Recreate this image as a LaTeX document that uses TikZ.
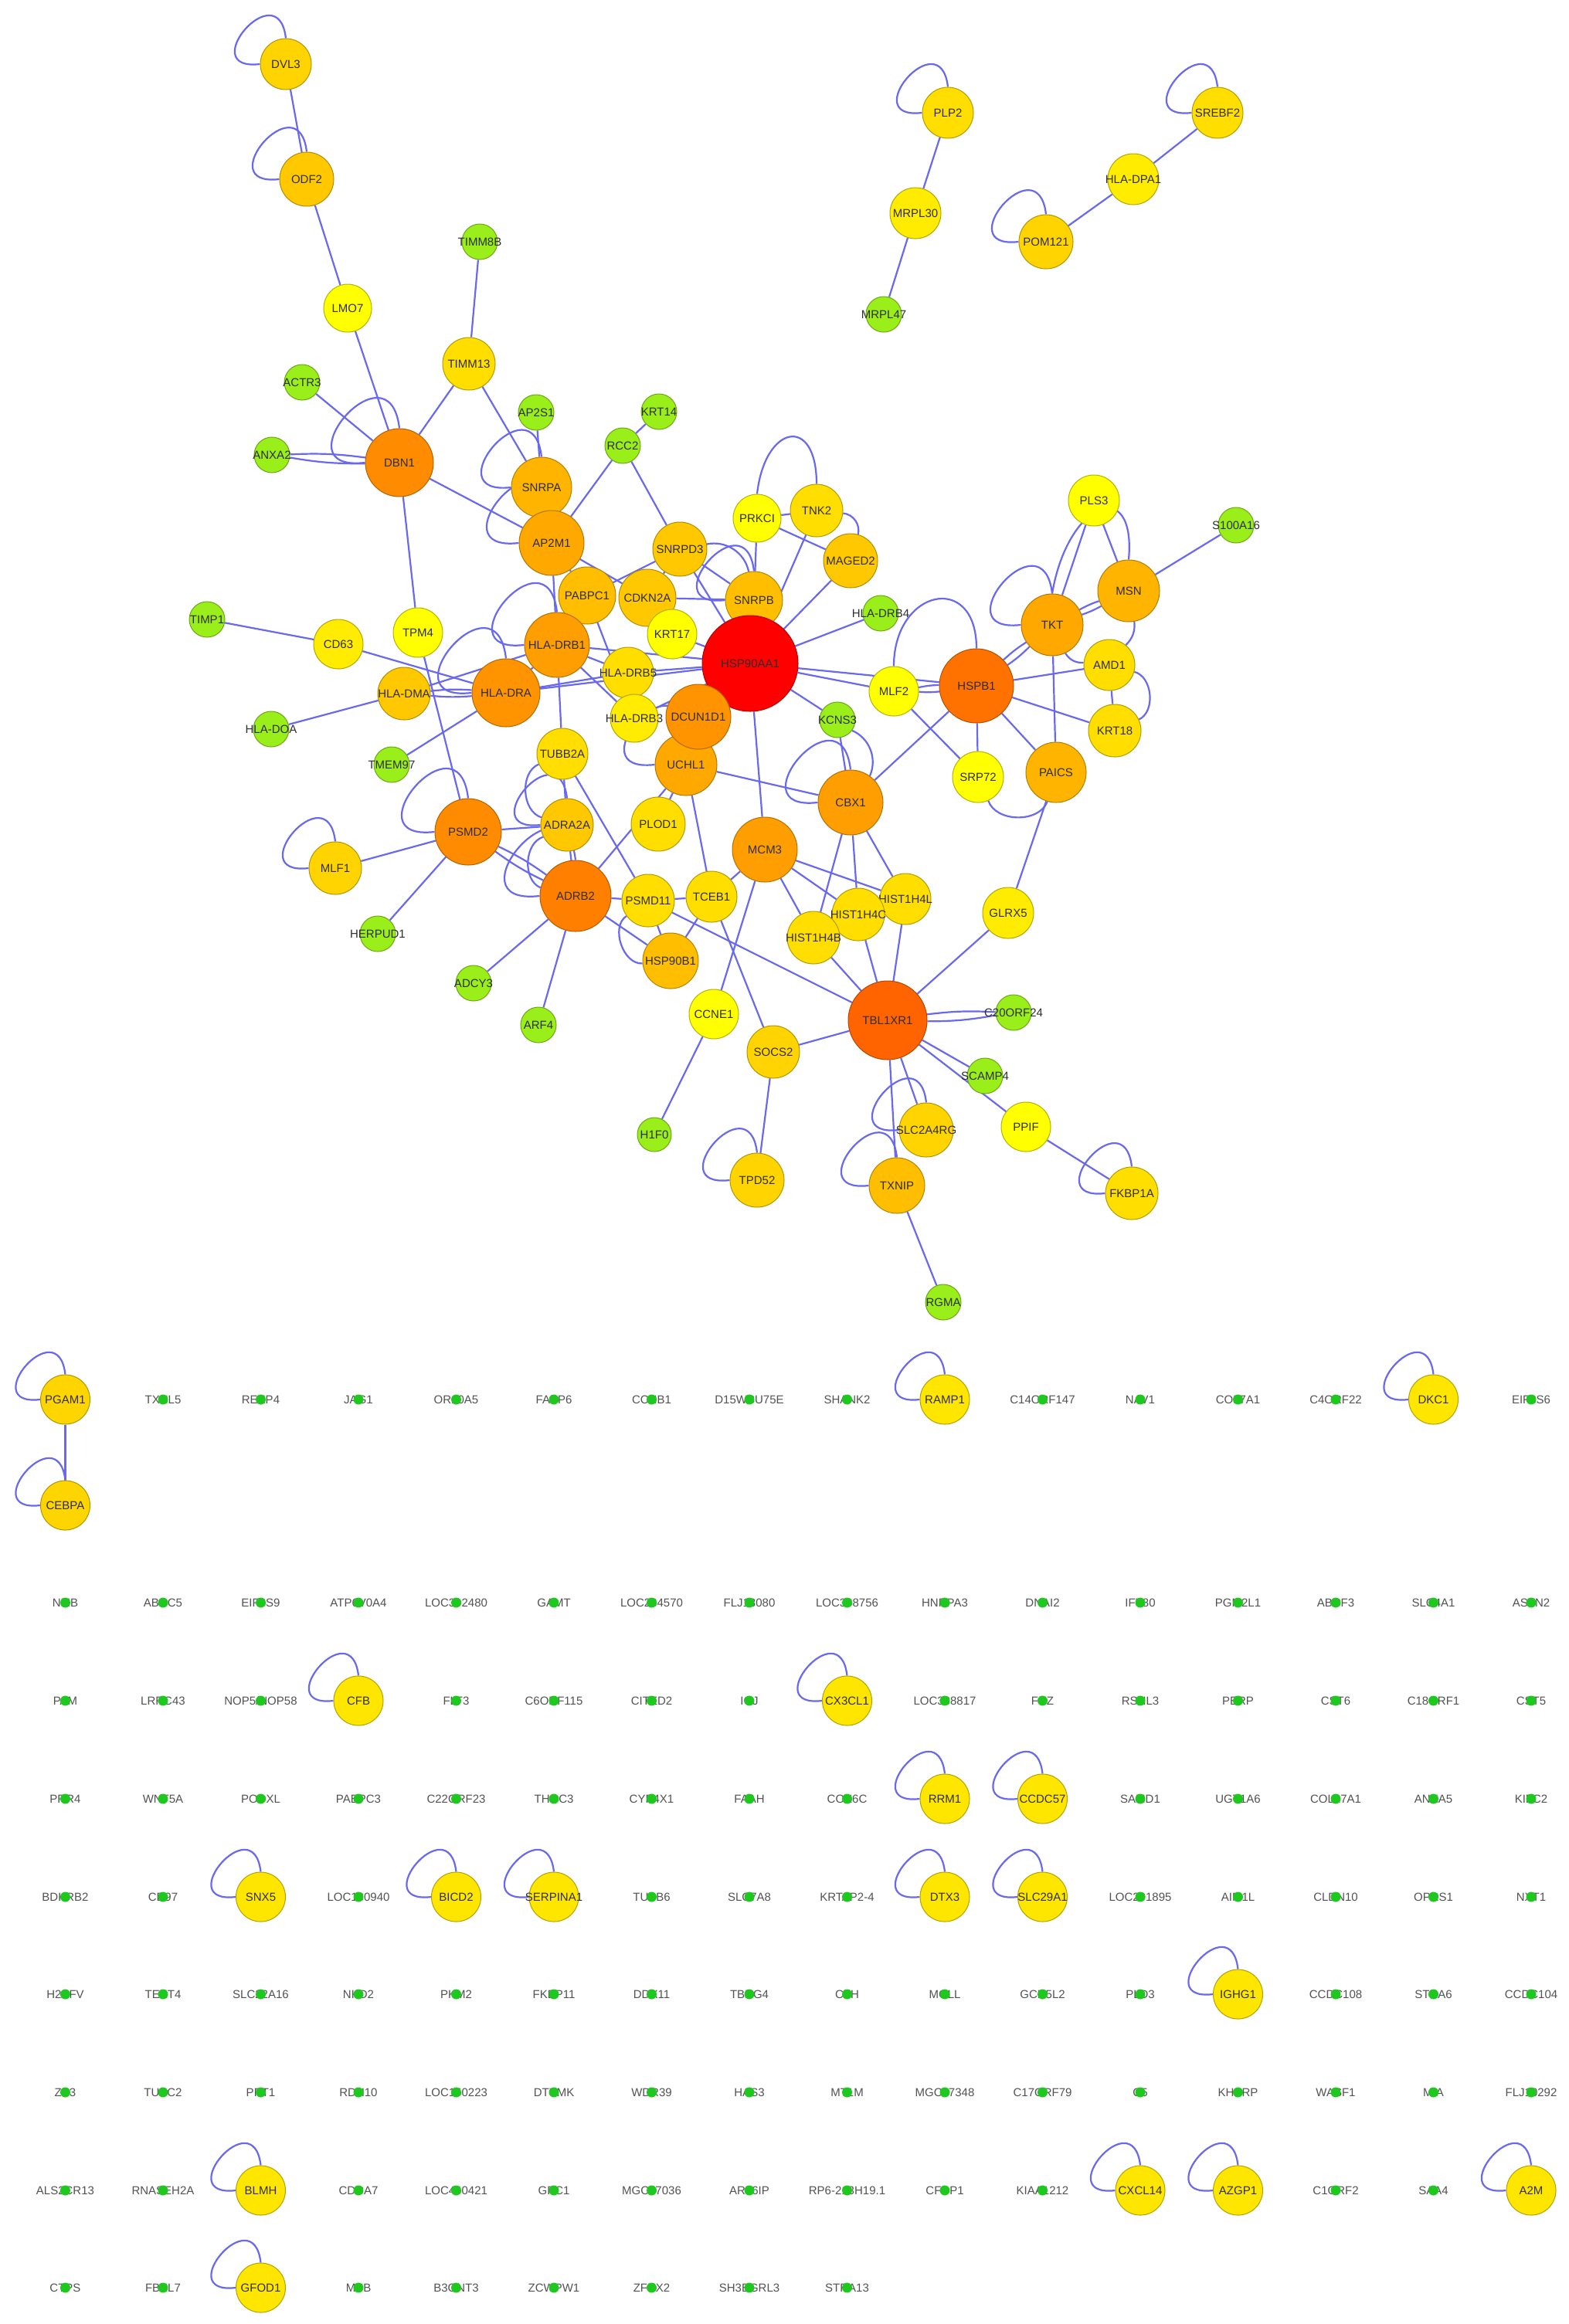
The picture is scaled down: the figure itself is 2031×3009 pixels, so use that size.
\documentclass[tikz,border=0pt]{standalone}
\usepackage{fontspec}
\setmainfont{Liberation Sans}
\pgfdeclarelayer{bglayer}
\pgfdeclarelayer{edgelayer}
\pgfsetlayers{bglayer,edgelayer,main}
\definecolor{eblue}{RGB}{105,105,240}
\definecolor{cG}{HTML}{9AEE1A}
\definecolor{cD}{HTML}{1EC81E}
\definecolor{cR}{HTML}{FF0000}
\definecolor{cOa}{HTML}{FF6400}
\definecolor{cOb}{HTML}{FF7200}
\definecolor{cOc}{HTML}{FF8000}
\definecolor{cOd}{HTML}{FF8C00}
\definecolor{cOe}{HTML}{FF9400}
\definecolor{cOf}{HTML}{FF9E00}
\definecolor{cOg}{HTML}{FFA800}
\definecolor{cOh}{HTML}{FFB400}
\definecolor{cYa}{HTML}{FFBE00}
\definecolor{cYb}{HTML}{FFC800}
\definecolor{cYc}{HTML}{FFD400}
\definecolor{cYd}{HTML}{FFDE00}
\definecolor{cYe}{HTML}{FFEC00}
\definecolor{cYf}{HTML}{FFFF00}
\definecolor{cGY}{HTML}{FFE600}
\definecolor{cGYb}{HTML}{FFD500}
\newcommand\netnode[6]{\node[nd, minimum size={2*#4}, fill=#5, draw=#5!70!black] (#1) at (#2,#3) {};\node[lab] (#1t) at (#1) {#6};}
\newcommand\griddot[4]{\node[glab] (#1) at ({84.5+126.5*#2},#3) {#4};\node[gdt] (#1d) at (#1) {};}
\newcommand\gridyel[5]{\node[nd, minimum size=64, fill=#5, draw=#5!70!black] (#1) at ({84.5+126.5*#2},#3) {};\node[lab] (#1t) at (#1) {#4};}
\newcommand\sloopx[2]{\draw[lnk] (#1.north) .. controls +({-0.3*#2},{-2.6*#2}) and +({-2.6*#2},{0.3*#2}) .. (#1.west);}
\begin{document}
\begin{tikzpicture}[x=1pt,y=-1pt,
  lnk/.style={draw=eblue, line width=2.2},
  nd/.style={circle, inner sep=0, line width=1},
  lab/.style={font=\fontsize{15}{15}\selectfont, text=black!82, inner sep=0},
  glab/.style={font=\fontsize{15}{15}\selectfont, text=black!68, inner sep=0},
  gdt/.style={circle, fill=cD, minimum size=13, inner sep=0}]
\begin{pgfonlayer}{bglayer}
\fill[white] (0,0) rectangle (2031,3009);
\end{pgfonlayer}
\useasboundingbox (0,0) rectangle (2031,3009);
% ---------------- network nodes
\netnode{DVL3}{370}{83}{33}{cYc}{DVL3}
\netnode{ODF2}{397}{232}{35}{cYb}{ODF2}
\netnode{LMO7}{450}{399}{31}{cYf}{LMO7}
\netnode{TIMM8B}{621}{313}{23}{cG}{TIMM8B}
\netnode{TIMM13}{607}{471}{34}{cYd}{TIMM13}
\netnode{ACTR3}{391}{495}{23}{cG}{ACTR3}
\netnode{ANXA2}{352}{589}{23}{cG}{ANXA2}
\netnode{DBN1}{517}{599}{44}{cOd}{DBN1}
\netnode{AP2S1}{694}{534}{23}{cG}{AP2S1}
\netnode{KRT14}{853}{533}{23}{cG}{KRT14}
\netnode{RCC2}{806}{577}{23}{cG}{RCC2}
\netnode{SNRPA}{701}{631}{39}{cOh}{SNRPA}
\netnode{AP2M1}{714}{703}{42}{cOg}{AP2M1}
\netnode{SNRPD3}{880}{711}{35}{cYb}{SNRPD3}
\netnode{PABPC1}{760}{771}{37}{cYa}{PABPC1}
\netnode{CDKN2A}{838}{774}{37}{cYb}{CDKN2A}
\netnode{PRKCI}{980}{671}{31}{cYf}{PRKCI}
\netnode{TNK2}{1057}{661}{34}{cYd}{TNK2}
\netnode{MAGED2}{1101}{726}{35}{cYb}{MAGED2}
\netnode{SNRPB}{976}{777}{37}{cYa}{SNRPB}
\netnode{HLADRB4}{1140}{794}{23}{cG}{HLA-DRB4}
\netnode{HLADRB1}{721}{835}{42}{cOf}{HLA-DRB1}
\netnode{HSP90AA1}{971}{859}{62}{cR}{HSP90AA1}
\netnode{KRT17}{870}{821}{32}{cYf}{KRT17}
\netnode{HLADRB5}{813}{871}{33}{cYd}{HLA-DRB5}
\netnode{UCHL1}{888}{990}{40}{cOg}{UCHL1}
\netnode{HLADRB3}{821}{930}{31}{cYe}{HLA-DRB3}
\netnode{DCUN1D1}{904}{928}{42}{cOe}{DCUN1D1}
\netnode{HLADRA}{655}{897}{44}{cOe}{HLA-DRA}
\netnode{HLADMA}{523}{898}{34}{cYb}{HLA-DMA}
\netnode{HLADOA}{351}{944}{23}{cG}{HLA-DOA}
\netnode{TMEM97}{507}{990}{23}{cG}{TMEM97}
\netnode{TPM4}{541}{819}{32}{cYf}{TPM4}
\netnode{CD63}{438}{834}{32}{cYe}{CD63}
\netnode{TIMP1}{268}{802}{23}{cG}{TIMP1}
\netnode{TUBB2A}{728}{976}{33}{cYd}{TUBB2A}
\netnode{PLOD1}{852}{1067}{35}{cYd}{PLOD1}
\netnode{ADRA2A}{734}{1068}{34}{cYb}{ADRA2A}
\netnode{PSMD2}{606}{1077}{43}{cOd}{PSMD2}
\netnode{MLF1}{434}{1124}{34}{cYc}{MLF1}
\netnode{HERPUD1}{489}{1209}{23}{cG}{HERPUD1}
\netnode{ADRB2}{745}{1160}{46}{cOc}{ADRB2}
\netnode{HSP90B1}{868}{1244}{36}{cYa}{HSP90B1}
\netnode{PSMD11}{839}{1166}{34}{cYd}{PSMD11}
\netnode{ADCY3}{613}{1273}{23}{cG}{ADCY3}
\netnode{ARF4}{697}{1327}{23}{cG}{ARF4}
\netnode{TCEB1}{921}{1161}{33}{cYd}{TCEB1}
\netnode{MCM3}{990}{1100}{42}{cOf}{MCM3}
\netnode{CBX1}{1101}{1039}{42}{cOf}{CBX1}
\netnode{KCNS3}{1084}{932}{23}{cG}{KCNS3}
\netnode{MLF2}{1157}{895}{32}{cYf}{MLF2}
\netnode{HSPB1}{1264}{888}{48}{cOb}{HSPB1}
\netnode{TKT}{1362}{809}{40}{cOg}{TKT}
\netnode{MSN}{1461}{765}{40}{cOh}{MSN}
\netnode{PLS3}{1416}{648}{33}{cYf}{PLS3}
\netnode{S100A16}{1600}{680}{23}{cG}{S100A16}
\netnode{AMD1}{1436}{861}{33}{cYd}{AMD1}
\netnode{KRT18}{1443}{946}{34}{cYd}{KRT18}
\netnode{PAICS}{1367}{1000}{39}{cOh}{PAICS}
\netnode{SRP72}{1266}{1006}{33}{cYf}{SRP72}
\netnode{HIST1H4L}{1172}{1164}{33}{cYd}{HIST1H4L}
\netnode{HIST1H4C}{1111}{1184}{34}{cYd}{HIST1H4C}
\netnode{HIST1H4B}{1053}{1214}{34}{cYd}{HIST1H4B}
\netnode{GLRX5}{1305}{1182}{33}{cYe}{GLRX5}
\netnode{TBL1XR1}{1149}{1321}{51}{cOa}{TBL1XR1}
\netnode{C20ORF24}{1312}{1311}{23}{cG}{C20ORF24}
\netnode{SCAMP4}{1275}{1393}{23}{cG}{SCAMP4}
\netnode{PPIF}{1328}{1459}{32}{cYf}{PPIF}
\netnode{FKBP1A}{1465}{1545}{34}{cYd}{FKBP1A}
\netnode{SLC2A4RG}{1199}{1463}{35}{cYc}{SLC2A4RG}
\netnode{TXNIP}{1161}{1535}{36}{cYa}{TXNIP}
\netnode{RGMA}{1221}{1686}{23}{cG}{RGMA}
\netnode{CCNE1}{924}{1313}{32}{cYf}{CCNE1}
\netnode{SOCS2}{1001}{1362}{34}{cYc}{SOCS2}
\netnode{H1F0}{847}{1469}{22}{cG}{H1F0}
\netnode{TPD52}{980}{1528}{35}{cYc}{TPD52}
\netnode{PLP2}{1227}{146}{33}{cYd}{PLP2}
\netnode{MRPL30}{1185}{276}{33}{cYe}{MRPL30}
\netnode{MRPL47}{1144}{407}{23}{cG}{MRPL47}
\netnode{SREBF2}{1576}{146}{33}{cYd}{SREBF2}
\netnode{HLADPA1}{1467}{232}{33}{cYe}{HLA-DPA1}
\netnode{POM121}{1354}{313}{35}{cYc}{POM121}
% ---------------- grid
\gridyel{PGAM1}{0}{1812}{PGAM1}{cGYb}
\griddot{gA1}{1}{1812}{TXNL5}
\griddot{gA2}{2}{1812}{REEP4}
\griddot{gA3}{3}{1812}{JAG1}
\griddot{gA4}{4}{1812}{OR10A5}
\griddot{gA5}{5}{1812}{FABP6}
\griddot{gA6}{6}{1812}{CCNB1}
\griddot{gA7}{7}{1812}{D15WSU75E}
\griddot{gA8}{8}{1812}{SHANK2}
\gridyel{RAMP1}{9}{1812}{RAMP1}{cGY}
\griddot{gA10}{10}{1812}{C14ORF147}
\griddot{gA11}{11}{1812}{NAV1}
\griddot{gA12}{12}{1812}{COL7A1}
\griddot{gA13}{13}{1812}{C4ORF22}
\gridyel{DKC1}{14}{1812}{DKC1}{cGY}
\griddot{gA15}{15}{1812}{EIF3S6}
\gridyel{CEBPA}{0}{1949}{CEBPA}{cGYb}
%
\griddot{gC0}{0}{2075}{NMB}
\griddot{gC1}{1}{2075}{ABCC5}
\griddot{gC2}{2}{2075}{EIF3S9}
\griddot{gC3}{3}{2075}{ATP6V0A4}
\griddot{gC4}{4}{2075}{LOC392480}
\griddot{gC5}{5}{2075}{GAMT}
\griddot{gC6}{6}{2075}{LOC284570}
\griddot{gC7}{7}{2075}{FLJ13080}
\griddot{gC8}{8}{2075}{LOC388756}
\griddot{gC9}{9}{2075}{HNRPA3}
\griddot{gC10}{10}{2075}{DNAI2}
\griddot{gC11}{11}{2075}{IFT80}
\griddot{gC12}{12}{2075}{PGM2L1}
\griddot{gC13}{13}{2075}{ABCF3}
\griddot{gC14}{14}{2075}{SLC4A1}
\griddot{gC15}{15}{2075}{ASTN2}
%
\griddot{gD0}{0}{2202}{PAM}
\griddot{gD1}{1}{2202}{LRRC43}
\griddot{gD2}{2}{2202}{NOP5/NOP58}
\gridyel{CFB}{3}{2202}{CFB}{cGY}
\griddot{gD4}{4}{2202}{FLT3}
\griddot{gD5}{5}{2202}{C6ORF115}
\griddot{gD6}{6}{2202}{CITED2}
\griddot{gD7}{7}{2202}{IGJ}
\gridyel{CX3CL1}{8}{2202}{CX3CL1}{cGY}
\griddot{gD9}{9}{2202}{LOC388817}
\griddot{gD10}{10}{2202}{FUZ}
\griddot{gD11}{11}{2202}{RSHL3}
\griddot{gD12}{12}{2202}{PERP}
\griddot{gD13}{13}{2202}{CST6}
\griddot{gD14}{14}{2202}{C18ORF1}
\griddot{gD15}{15}{2202}{CST5}
%
\griddot{gE0}{0}{2329}{PRR4}
\griddot{gE1}{1}{2329}{WNT5A}
\griddot{gE2}{2}{2329}{PODXL}
\griddot{gE3}{3}{2329}{PABPC3}
\griddot{gE4}{4}{2329}{C22ORF23}
\griddot{gE5}{5}{2329}{THOC3}
\griddot{gE6}{6}{2329}{CYP4X1}
\griddot{gE7}{7}{2329}{FAAH}
\griddot{gE8}{8}{2329}{COX6C}
\gridyel{RRM1}{9}{2329}{RRM1}{cGY}
\gridyel{CCDC57}{10}{2329}{CCDC57}{cGY}
\griddot{gE11}{11}{2329}{SAMD1}
\griddot{gE12}{12}{2329}{UGT1A6}
\griddot{gE13}{13}{2329}{COL27A1}
\griddot{gE14}{14}{2329}{ANXA5}
\griddot{gE15}{15}{2329}{KIFC2}
%
\griddot{gF0}{0}{2456}{BDKRB2}
\griddot{gF1}{1}{2456}{CD97}
\gridyel{SNX5}{2}{2456}{SNX5}{cGY}
\griddot{gF3}{3}{2456}{LOC130940}
\gridyel{BICD2}{4}{2456}{BICD2}{cGY}
\gridyel{SERPINA1}{5}{2456}{SERPINA1}{cGY}
\griddot{gF6}{6}{2456}{TUBB6}
\griddot{gF7}{7}{2456}{SLC7A8}
\griddot{gF8}{8}{2456}{KRTAP2-4}
\gridyel{DTX3}{9}{2456}{DTX3}{cGY}
\gridyel{SLC29A1}{10}{2456}{SLC29A1}{cGY}
\griddot{gF11}{11}{2456}{LOC201895}
\griddot{gF12}{12}{2456}{AIM1L}
\griddot{gF13}{13}{2456}{CLDN10}
\griddot{gF14}{14}{2456}{OPRS1}
\griddot{gF15}{15}{2456}{NXT1}
%
\griddot{gG0}{0}{2582}{H2AFV}
\griddot{gG1}{1}{2582}{TEKT4}
\griddot{gG2}{2}{2582}{SLC22A16}
\griddot{gG3}{3}{2582}{NKD2}
\griddot{gG4}{4}{2582}{PKM2}
\griddot{gG5}{5}{2582}{FKBP11}
\griddot{gG6}{6}{2582}{DDX11}
\griddot{gG7}{7}{2582}{TBRG4}
\griddot{gG8}{8}{2582}{CFH}
\griddot{gG9}{9}{2582}{MGLL}
\griddot{gG10}{10}{2582}{GCN5L2}
\griddot{gG11}{11}{2582}{PLD3}
\gridyel{IGHG1}{12}{2582}{IGHG1}{cGY}
\griddot{gG13}{13}{2582}{CCDC108}
\griddot{gG14}{14}{2582}{STRA6}
\griddot{gG15}{15}{2582}{CCDC104}
%
\griddot{gH0}{0}{2709}{ZP3}
\griddot{gH1}{1}{2709}{TUSC2}
\griddot{gH2}{2}{2709}{PPT1}
\griddot{gH3}{3}{2709}{RDH10}
\griddot{gH4}{4}{2709}{LOC150223}
\griddot{gH5}{5}{2709}{DTYMK}
\griddot{gH6}{6}{2709}{WDR39}
\griddot{gH7}{7}{2709}{HAS3}
\griddot{gH8}{8}{2709}{MT1M}
\griddot{gH9}{9}{2709}{MGC27348}
\griddot{gH10}{10}{2709}{C17ORF79}
\griddot{gH11}{11}{2709}{C5}
\griddot{gH12}{12}{2709}{KHSRP}
\griddot{gH13}{13}{2709}{WASF1}
\griddot{gH14}{14}{2709}{MIA}
\griddot{gH15}{15}{2709}{FLJ10292}
%
\griddot{gI0}{0}{2836}{ALS2CR13}
\griddot{gI1}{1}{2836}{RNASEH2A}
\gridyel{BLMH}{2}{2836}{BLMH}{cGY}
\griddot{gI3}{3}{2836}{CDCA7}
\griddot{gI4}{4}{2836}{LOC440421}
\griddot{gI5}{5}{2836}{GPC1}
\griddot{gI6}{6}{2836}{MGC27036}
\griddot{gI7}{7}{2836}{ARL6IP}
\griddot{gI8}{8}{2836}{RP6-213H19.1}
\griddot{gI9}{9}{2836}{CFDP1}
\griddot{gI10}{10}{2836}{KIAA1212}
\gridyel{CXCL14}{11}{2836}{CXCL14}{cGY}
\gridyel{AZGP1}{12}{2836}{AZGP1}{cGY}
\griddot{gI13}{13}{2836}{C1ORF2}
\griddot{gI14}{14}{2836}{SAA4}
\gridyel{A2M}{15}{2836}{A2M}{cGY}
%
\griddot{gJ0}{0}{2962}{CTPS}
\griddot{gJ1}{1}{2962}{FBXL7}
\gridyel{GFOD1}{2}{2962}{GFOD1}{cGY}
\griddot{gJ3}{3}{2962}{MYB}
\griddot{gJ4}{4}{2962}{B3GNT3}
\griddot{gJ5}{5}{2962}{ZCWPW1}
\griddot{gJ6}{6}{2962}{ZFHX2}
\griddot{gJ7}{7}{2962}{SH3BGRL3}
\griddot{gJ8}{8}{2962}{STRA13}
% ---------------- edges
\begin{pgfonlayer}{edgelayer}
\foreach \a/\b in {DVL3/ODF2, ODF2/LMO7, LMO7/DBN1, ACTR3/DBN1, DBN1/TIMM13, TIMM13/TIMM8B, TIMM13/SNRPA, DBN1/AP2M1, DBN1/TPM4, AP2S1/SNRPA, RCC2/KRT14, RCC2/AP2M1, RCC2/SNRPD3, SNRPA/AP2M1, AP2M1/PABPC1, AP2M1/HLADRB1, AP2M1/CDKN2A, PABPC1/SNRPD3, PABPC1/HLADRB1, PABPC1/HLADRB3, CDKN2A/SNRPB, CDKN2A/SNRPD3, CDKN2A/KRT17, SNRPD3/SNRPB, SNRPD3/HSP90AA1, PRKCI/SNRPB, PRKCI/TNK2, PRKCI/MAGED2, TNK2/HSP90AA1, MAGED2/HSP90AA1, SNRPB/HSP90AA1, KRT17/HSP90AA1, HLADRB4/HSP90AA1, HLADRB1/HSP90AA1, HLADRB5/HSP90AA1, HLADRB3/HSP90AA1, HLADRA/HSP90AA1, DCUN1D1/HSP90AA1, HSP90AA1/MLF2, HSP90AA1/HSPB1, HSP90AA1/KCNS3, HSP90AA1/MCM3, HLADRA/HLADRB1, HLADRA/HLADRB5, HLADRB1/HLADRB5, HLADRB1/HLADRB3, HLADRB1/TUBB2A, HLADMA/HLADOA, HLADRA/TMEM97, CD63/TIMP1, CD63/HLADRA, HLADMA/HLADRB1, TPM4/PSMD2, PSMD2/MLF1, PSMD2/HERPUD1, PSMD2/ADRA2A, ADRB2/ADCY3, ADRB2/ARF4, ADRB2/ADRA2A, TUBB2A/ADRA2A, TUBB2A/PSMD11, ADRB2/PSMD11, ADRB2/HSP90B1, ADRB2/UCHL1, PSMD11/HSP90B1, PSMD11/TCEB1, TCEB1/HSP90B1, TCEB1/MCM3, TCEB1/SOCS2, TCEB1/UCHL1, MCM3/CCNE1, PSMD11/TBL1XR1, MCM3/HIST1H4B, MCM3/HIST1H4C, MCM3/HIST1H4L, CBX1/HIST1H4B, CBX1/HIST1H4C, CBX1/HIST1H4L, HIST1H4B/TBL1XR1, HIST1H4C/TBL1XR1, HIST1H4L/TBL1XR1, GLRX5/TBL1XR1, GLRX5/PAICS, TBL1XR1/SCAMP4, TBL1XR1/PPIF, PPIF/FKBP1A, TBL1XR1/SOCS2, SOCS2/TPD52, CCNE1/H1F0, TBL1XR1/TXNIP, TBL1XR1/SLC2A4RG, TXNIP/RGMA, UCHL1/DCUN1D1, UCHL1/CBX1, UCHL1/PLOD1, CBX1/KCNS3, CBX1/HSPB1, MLF2/SRP72, HSPB1/AMD1, HSPB1/KRT18, HSPB1/SRP72, HSPB1/PAICS, TKT/PLS3, MSN/PLS3, MSN/S100A16, AMD1/KRT18, TKT/PAICS, PLP2/MRPL30, MRPL30/MRPL47, SREBF2/HLADPA1, HLADPA1/POM121, PGAM1/CEBPA}
  \draw[lnk] (\a) -- (\b);
\foreach \a/\b in {ANXA2/DBN1, HLADRA/HLADMA, PSMD2/ADRB2, TBL1XR1/C20ORF24, MLF2/HSPB1, HSPB1/TKT, TKT/MSN}
  {\draw[lnk] (\a) to[bend left=5] (\b); \draw[lnk] (\a) to[bend right=5] (\b);}
\draw[lnk] (PRKCI.north) .. controls +(10,-90) and +(0,-90) .. (TNK2.north);
\draw[lnk] (SNRPD3) to[bend left=45] (SNRPB);
\draw[lnk] (TNK2) to[bend left=50] (MAGED2);
\draw[lnk] (ADRB2) to[bend left=70] (ADRA2A);
\draw[lnk] (TUBB2A) to[bend right=70] (ADRA2A);
\draw[lnk] (PSMD11) to[bend right=75] (HSP90B1);
\draw[lnk] (CBX1) to[bend right=45] (KCNS3);
\draw[lnk] (MLF2.north) .. controls +(0,-100) and +(0,-100) .. (HSPB1.north);
\draw[lnk] (TKT.north) .. controls +(20,-120) and +(10,-110) .. (MSN.north);
\draw[lnk] (TKT) to[bend right=30] (AMD1);
\draw[lnk] (MSN) to[bend left=25] (AMD1);
\draw[lnk] (AMD1) to[bend left=70] (KRT18);
\draw[lnk] (PAICS) to[bend left=70] (SRP72);
\foreach \n/\r in {DVL3/33, ODF2/35, DBN1/44, SNRPA/39, AP2M1/42, HLADRA/44, HLADRB1/42, PSMD2/43, MLF1/34, ADRB2/46, ADRA2A/34, TKT/40, TXNIP/36, SLC2A4RG/35, TPD52/35, FKBP1A/34, PLP2/33, SREBF2/33, POM121/35, CBX1/42, SNRPB/37, UCHL1/40, PGAM1/32, CEBPA/32, RAMP1/32, DKC1/32, CFB/32, CX3CL1/32, RRM1/32, CCDC57/32, SNX5/32, BICD2/32, SERPINA1/32, DTX3/32, SLC29A1/32, IGHG1/32, BLMH/32, CXCL14/32, AZGP1/32, A2M/32, GFOD1/32}
  {\sloopx{\n}{\r}}
\end{pgfonlayer}
\end{tikzpicture}
\end{document}
